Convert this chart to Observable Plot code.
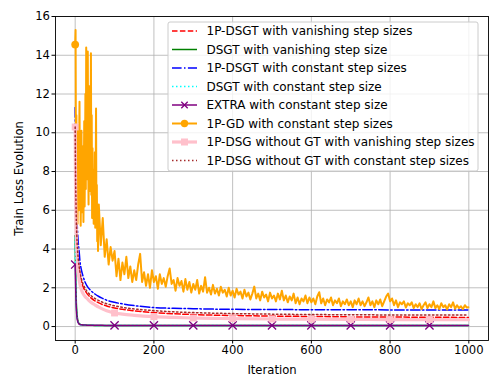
<!DOCTYPE html>
<html>
<head>
<meta charset="utf-8">
<script src="https://cdn.jsdelivr.net/npm/d3@7"></script>
<script src="https://cdn.jsdelivr.net/npm/@observablehq/plot@0.6"></script>
<style>
  body { margin: 0; background: #fff; }
  #chart { position: relative; width: 489px; height: 375px; }
</style>
</head>
<body>
<div id="chart"></div>
<script>
// Iterations at which the smooth curves are sampled
const iterKey = [0, 1, 2, 3, 4, 5, 6, 8, 10, 12, 15, 20, 25, 30, 40, 50, 60, 70, 80,
                 100, 120, 150, 200, 250, 300, 350, 400, 500, 600, 700, 800, 900, 999];

// 1P-DSGT, vanishing step sizes
const dsgt1pVanishing = [10.3, 7.6, 6.2, 5.2, 4.6, 4.1, 3.8, 3.3, 2.95, 2.7, 2.4, 2.05, 1.85, 1.7,
  1.48, 1.33, 1.22, 1.13, 1.06, 0.96, 0.89, 0.81, 0.72, 0.66, 0.62, 0.59, 0.57,
  0.54, 0.52, 0.5, 0.49, 0.48, 0.47];
// DSGT, vanishing step size
const dsgtVanishing = [4.7, 3.0, 1.9, 1.2, 0.8, 0.55, 0.4, 0.22, 0.15, 0.12, 0.1, 0.08, 0.075, 0.07,
  0.065, 0.06, 0.06, 0.058, 0.056, 0.055, 0.054, 0.053, 0.052, 0.051, 0.05, 0.05, 0.05,
  0.05, 0.05, 0.05, 0.05, 0.05, 0.05];
// 1P-DSGT, constant step sizes
const dsgt1pConstant = [11.3, 9.0, 7.5, 6.5, 5.8, 5.3, 4.9, 4.3, 3.9, 3.4, 3.0, 2.6, 2.3, 2.1,
  1.85, 1.68, 1.55, 1.45, 1.36, 1.25, 1.17, 1.08, 0.98, 0.94, 0.92, 0.9, 0.89,
  0.88, 0.87, 0.87, 0.86, 0.86, 0.86];
// DSGT, constant step size
const dsgtConstant = [4.6, 2.8, 1.7, 1.05, 0.7, 0.48, 0.35, 0.2, 0.14, 0.11, 0.09, 0.08, 0.075, 0.07,
  0.065, 0.06, 0.06, 0.058, 0.056, 0.055, 0.054, 0.053, 0.052, 0.051, 0.05, 0.05, 0.05,
  0.05, 0.05, 0.05, 0.05, 0.05, 0.05];
// EXTRA, constant step size
const extraConstant = [3.2, 2.2, 1.4, 0.9, 0.6, 0.4, 0.3, 0.18, 0.12, 0.1, 0.09, 0.08, 0.075, 0.07,
  0.065, 0.063, 0.062, 0.061, 0.06, 0.06, 0.06, 0.06, 0.06, 0.06, 0.06, 0.06, 0.06,
  0.06, 0.06, 0.06, 0.06, 0.06, 0.06];
// 1P-DSG without gradient tracking, vanishing step sizes
const dsgNoGtVanishing = [10.3, 7.0, 5.6, 4.6, 4.0, 3.55, 3.2, 2.75, 2.45, 2.2, 1.95, 1.7, 1.55, 1.45,
  1.25, 1.12, 1.0, 0.9, 0.82, 0.7, 0.64, 0.58, 0.51, 0.47, 0.44, 0.42, 0.41,
  0.39, 0.38, 0.37, 0.36, 0.36, 0.35];
// 1P-DSG without gradient tracking, constant step sizes
const dsgNoGtConstant = [10.3, 7.8, 6.4, 5.4, 4.8, 4.3, 3.95, 3.45, 3.1, 2.85, 2.55, 2.2, 1.98, 1.82,
  1.6, 1.45, 1.34, 1.25, 1.18, 1.07, 0.99, 0.91, 0.82, 0.76, 0.72, 0.69, 0.67,
  0.64, 0.62, 0.61, 0.6, 0.6, 0.59];

// 1P-GD, constant step sizes: every iteration for 0..59
const gdEarly = [14.55, 15.3, 8.2, 10.9, 6.1, 9.4, 5.3, 7.8, 10.4, 6.0,
  8.9, 11.6, 6.4, 9.8, 5.2, 7.4, 10.1, 5.9, 8.6, 6.6,
  9.3, 5.4, 7.9, 10.6, 6.2, 8.8, 12.0, 7.1, 14.4, 8.5,
  13.2, 7.6, 14.2, 9.1, 6.3, 10.2, 12.4, 7.0, 11.1, 8.3,
  14.1, 6.8, 10.9, 5.6, 9.2, 6.5, 8.1, 5.3, 7.6, 5.4,
  9.0, 5.1, 6.9, 11.25, 5.2, 7.3, 4.4, 6.0, 3.9, 5.6];
// then every 5th iteration from 60 to 995
const gdLate = [
  6.3, 4.2, 5.6, 3.6, 4.5, 3.2, 4.1, 3.4, 3.9, 2.6,
  3.5, 2.4, 3.3, 2.7, 3.6, 2.5, 3.1, 2.3, 2.9, 2.4,
  3.2, 3.75, 2.3, 2.8, 2.1, 2.7, 2.0, 2.9, 2.3, 2.6,
  1.95, 2.7, 2.2, 2.5, 2.05, 2.6, 3.0, 2.2, 2.4, 1.85,
  2.5, 2.1, 2.35, 1.8, 2.45, 1.9, 2.3, 1.75, 2.2, 1.9,
  2.4, 1.7, 2.1, 1.8, 2.55, 1.75, 2.0, 1.65, 2.15, 1.7,
  1.95, 1.6, 2.05, 1.75, 1.9, 1.55, 2.0, 1.6, 1.85, 1.5,
  1.95, 1.65, 1.8, 1.45, 1.9, 1.55, 1.75, 1.4, 1.7, 2.06,
  1.45, 1.7, 1.35, 1.8, 1.5, 1.65, 1.3, 1.75, 1.45, 1.6,
  1.3, 1.7, 1.4, 1.85, 1.35, 1.6, 1.25, 1.55, 1.35, 1.7,
  1.2, 1.5, 1.15, 1.45, 1.3, 1.6, 1.2, 1.5, 1.25, 1.45,
  1.15, 1.55, 1.77, 1.2, 1.45, 1.1, 1.4, 1.25, 1.5, 1.1,
  1.35, 1.2, 1.45, 1.05, 1.3, 1.15, 1.4, 1.1, 1.3, 1.0,
  1.35, 1.15, 1.45, 1.1, 1.3, 1.05, 1.25, 1.5, 1.1, 1.3,
  1.0, 1.35, 1.15, 1.4, 1.05, 1.3, 1.55, 1.7, 1.3, 1.45,
  1.1, 1.35, 1.0, 1.25, 1.15, 1.3, 0.98, 1.2, 1.1, 1.25,
  0.95, 1.15, 1.0, 1.2, 0.9, 1.1, 1.25, 0.95, 1.15, 1.0,
  1.3, 0.95, 1.1, 0.9, 1.2, 1.0, 1.1, 0.88, 1.15, 1.0,
  1.25, 0.92, 1.1, 0.95, 1.05, 0.9, 1.1, 0.98];
const gdLast = 1.0; // iteration 999

const seriesNames = [
  "1P-DSGT with vanishing step sizes",
  "DSGT with vanishing step size",
  "1P-DSGT with constant step sizes",
  "DSGT with constant step size",
  "EXTRA with constant step size",
  "1P-GD with constant step sizes",
  "1P-DSG without GT with vanishing step sizes",
  "1P-DSG without GT with constant step sizes"
];

const xTicks = [0, 200, 400, 600, 800, 1000];
const yTicks = [0, 2, 4, 6, 8, 10, 12, 14, 16];

// ---- rows for the marks ----
const rowsOf = (vals) => iterKey.map((it, i) => ({iter: it, loss: vals[i]}));
const gdRows = [
  ...gdEarly.map((v, i) => ({iter: i, loss: v})),
  ...gdLate.map((v, i) => ({iter: 60 + 5 * i, loss: v})),
  {iter: 999, loss: gdLast}
];
const every100 = (rows) => rows.filter(d => d.iter % 100 === 0 && d.iter < 1000);

// line styles, in drawing order
const styles = [
  {rows: rowsOf(dsgt1pVanishing), stroke: "red", width: 1.5, dash: "5.5,2.4"},
  {rows: rowsOf(dsgtVanishing), stroke: "green", width: 1.5, dash: null},
  {rows: rowsOf(dsgt1pConstant), stroke: "blue", width: 1.5, dash: "9.6,2.4,1.5,2.4"},
  {rows: rowsOf(dsgtConstant), stroke: "cyan", width: 1.5, dash: "1.5,2.5"},
  {rows: rowsOf(extraConstant), stroke: "purple", width: 1.5, dash: null, marker: "times"},
  {rows: gdRows, stroke: "orange", width: 2, dash: null, marker: "circle", linear: true},
  {rows: rowsOf(dsgNoGtVanishing), stroke: "pink", width: 3.2, dash: null, marker: "square"},
  {rows: rowsOf(dsgNoGtConstant), stroke: "brown", width: 1.5, dash: "1.5,2.5"}
];

const marks = [
  Plot.gridX(xTicks, {stroke: "#b0b0b0", strokeWidth: 0.8, strokeOpacity: 1}),
  Plot.gridY(yTicks, {stroke: "#b0b0b0", strokeWidth: 0.8, strokeOpacity: 1}),
  Plot.axisX({ticks: xTicks, tickFormat: "d", tickSize: 3.5, tickPadding: 2,
              label: "Iteration", labelAnchor: "center", labelArrow: "none", labelOffset: 33}),
  Plot.axisY({ticks: yTicks, tickFormat: "d", tickSize: 3.5, tickPadding: 2,
              label: "Train Loss Evolution", labelAnchor: "center", labelArrow: "none", labelOffset: 41})
];

for (const s of styles) {
  marks.push(Plot.line(s.rows, {
    x: "iter", y: "loss", stroke: s.stroke, strokeWidth: s.width,
    strokeDasharray: s.dash || undefined, strokeLinejoin: "round",
    curve: s.linear ? "linear" : "monotone-x"
  }));
  if (s.marker === "times") {
    marks.push(Plot.dot(every100(s.rows), {x: "iter", y: "loss", symbol: "times", r: 3.8,
      stroke: s.stroke, strokeWidth: 1.3}));
  } else if (s.marker === "square") {
    marks.push(Plot.dot(every100(s.rows), {x: "iter", y: "loss", symbol: "square", r: 3.9,
      fill: s.stroke, stroke: "none"}));
  } else if (s.marker === "circle") {
    marks.push(Plot.dot(s.rows.slice(0, 1), {x: "iter", y: "loss", symbol: "circle", r: 3.9,
      fill: s.stroke, stroke: "none"}));
  }
}
marks.push(Plot.frame({stroke: "black", strokeWidth: 0.9}));

const chart = Plot.plot({
  width: 489,
  height: 375,
  marginLeft: 55,
  marginRight: 1,
  marginTop: 16,
  marginBottom: 35,
  style: {fontFamily: "DejaVu Sans", fontSize: "11.6px", color: "#000", background: "#fff"},
  x: {domain: [-50, 1050]},
  y: {domain: [-0.72, 16]},
  marks
});
document.getElementById("chart").appendChild(chart);

// ---- legend box, upper right ----
const svg = d3.select(chart);
const lg = svg.append("g").attr("font-family", "DejaVu Sans").attr("font-size", "12px")
  .attr("text-anchor", "start");
const box = {x: 168, y: 22, w: 310, h: 149};
lg.append("rect").attr("x", box.x).attr("y", box.y).attr("width", box.w).attr("height", box.h)
  .attr("rx", 2).attr("fill", "white").attr("fill-opacity", 0.8)
  .attr("stroke", "#cccccc").attr("stroke-width", 1);
const row0 = 31, rowStep = 18.5, hx0 = 172, hx1 = 197, tx = 206.5;
styles.forEach((s, i) => {
  const y = row0 + i * rowStep;
  lg.append("line").attr("x1", hx0).attr("x2", hx1).attr("y1", y).attr("y2", y)
    .attr("stroke", s.stroke).attr("stroke-width", s.width)
    .attr("stroke-dasharray", s.dash || null);
  const cx = (hx0 + hx1) / 2;
  if (s.marker === "times") {
    const d = 3.2;
    lg.append("path").attr("d", `M${cx - d},${y - d}L${cx + d},${y + d}M${cx - d},${y + d}L${cx + d},${y - d}`)
      .attr("stroke", s.stroke).attr("stroke-width", 1.3);
  } else if (s.marker === "circle") {
    lg.append("circle").attr("cx", cx).attr("cy", y).attr("r", 3.7).attr("fill", s.stroke);
  } else if (s.marker === "square") {
    lg.append("rect").attr("x", cx - 3.5).attr("y", y - 3.5).attr("width", 7).attr("height", 7)
      .attr("fill", s.stroke);
  }
  lg.append("text").attr("x", tx).attr("y", y).attr("dy", "0.36em")
    .attr("fill", "#000").text(seriesNames[i]);
});
</script>
</body>
</html>
